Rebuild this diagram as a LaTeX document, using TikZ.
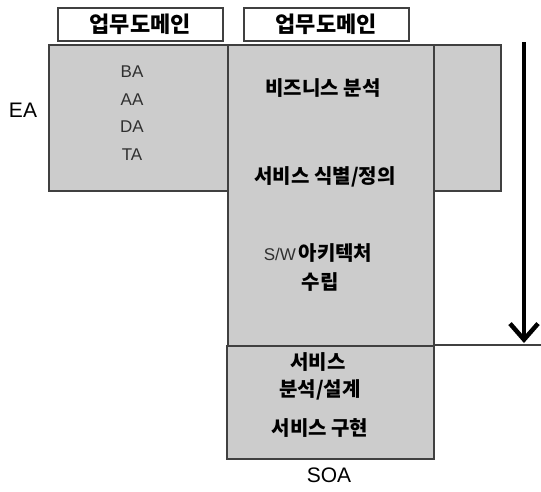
\documentclass[tikz,border=0pt]{standalone}
\usepackage{fontspec}
\setmainfont{Liberation Sans}
\newfontfamily\kr{Noto Sans CJK KR}
\usetikzlibrary{arrows.meta}
\definecolor{boxfill}{HTML}{CCCCCC}
\definecolor{boxline}{HTML}{404040}
\definecolor{thintext}{HTML}{303030}
\tikzset{
  box/.style={draw=boxline, line width=1.6pt, fill=boxfill, anchor=north west, inner sep=0pt},
  headbox/.style={draw=boxline, line width=1.6pt, fill=white, anchor=north west, inner sep=0pt},
  krtext/.style={font=\kr\bfseries\fontsize{20}{24}\selectfont, inner sep=0pt, align=center},
  headtext/.style={font=\kr\bfseries\fontsize{22}{26}\selectfont, inner sep=0pt},
  thin/.style={font=\fontsize{17}{20}\selectfont, text=thintext, inner sep=0pt},
  bigarrow/.style={line width=4.5pt, -{Straight Barb[length=16pt, width=28pt, line width=4.5pt]}},
  sepline/.style={draw=boxline, line width=1.4pt}
}
\begin{document}
\begin{tikzpicture}[x=1pt, y=-1pt]
\useasboundingbox[fill=white] (0,0) rectangle (541,491);
% header boxes
\node[headbox, minimum width=165pt, minimum height=33pt] (h1) at (57,7) {};
\node[headbox, minimum width=165pt, minimum height=33pt] (h2) at (243,7) {};
\node[headtext] (h1t) at (h1.center) {업무도메인};
\node[headtext] (h2t) at (h2.center) {업무도메인};
% main boxes
\node[box, minimum width=179pt, minimum height=146pt] (ea) at (48,44) {};
\node[box, minimum width=67pt, minimum height=146pt] (right) at (433,44) {};
\node[box, minimum width=206pt, minimum height=301pt] (mid) at (227,44) {};
\node[box, minimum width=207pt, minimum height=113pt] (soa) at (226,345) {};
% EA texts
\node[font=\fontsize{21}{24}\selectfont, inner sep=0pt] (eal) at (23,110) {EA};
\node[thin] (ba) at (132,72) {BA};
\node[thin] (aa) at (132,100) {AA};
\node[thin] (da) at (132,127) {DA};
\node[thin] (ta) at (132,155) {TA};
% middle texts
\node[krtext] (t1) at (323,88) {비즈니스 분석};
\node[krtext] (t2) at (325,177) {서비스 식별/정의};
\node[inner sep=0pt] (t3) at (318,253) {{\fontsize{17}{20}\selectfont\color{thintext}S/W} {\kr\bfseries\fontsize{20}{24}\selectfont 아키텍처}};
\node[krtext] (t4) at (320,282) {수립};
% SOA texts
\node[krtext] (s1) at (318,362) {서비스};
\node[krtext] (s2) at (320,390) {분석/설계};
\node[krtext] (s3) at (320,428) {서비스 구현};
\node[font=\fontsize{21}{24}\selectfont, inner sep=0pt] (soal) at (329,475) {SOA};
% horizontal line and arrow
\coordinate (lineend) at (541,345);
\draw[sepline] (soa.north east) -- (lineend);
\coordinate (atop) at (524,42);
\coordinate (abot) at (524,343);
\draw[bigarrow] (atop) -- (abot);
\end{tikzpicture}
\end{document}
